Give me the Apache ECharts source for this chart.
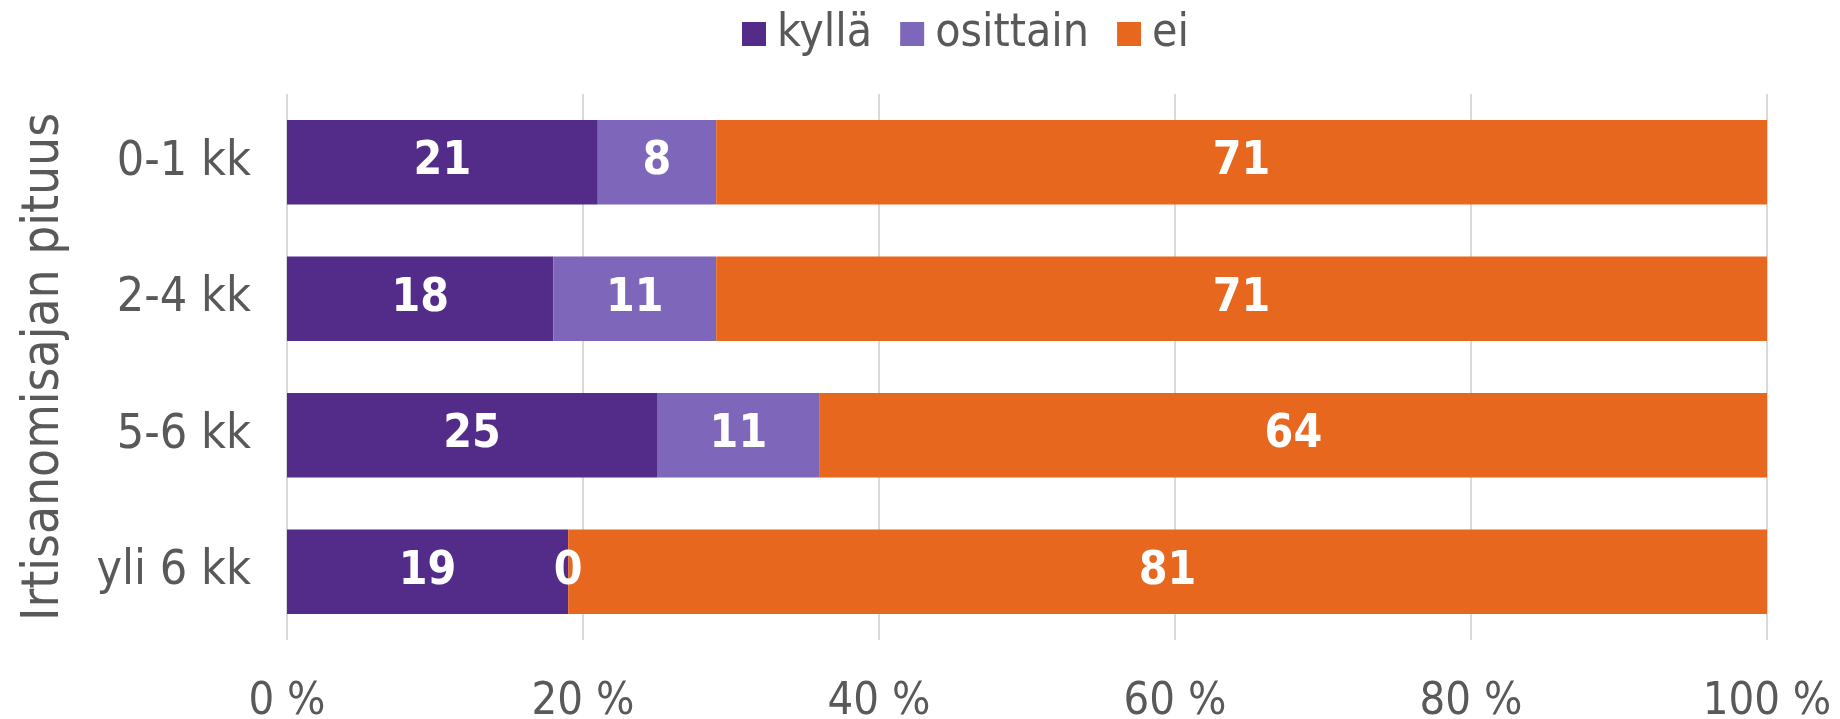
<!DOCTYPE html>
<html>
<head>
<meta charset="utf-8">
<script src="https://cdn.jsdelivr.net/npm/echarts@6/dist/echarts.min.js"></script>
<style>html,body{margin:0;padding:0;background:#fff}#c{width:1840px;height:719px}</style>
</head>
<body>
<div id="c"></div>
<script>
const categories = ['0-1 kk', '2-4 kk', '5-6 kk', 'yli 6 kk'];
const kylla = [21, 18, 25, 19];
const osittain = [8, 11, 11, 0];
const ei = [71, 71, 64, 81];
const seriesNames = ['kyllä', 'osittain', 'ei'];
const colors = ['#532C8A', '#7E66BA', '#E8671F'];
const xTicks = [0, 20, 40, 60, 80, 100];

const FONT = '"DejaVu Sans Condensed", "DejaVu Sans", sans-serif';
const chart = echarts.init(document.getElementById('c'));
const label = {
  show: true, position: 'inside', color: '#fff', fontFamily: FONT,
  fontWeight: 'bold', fontSize: 46, formatter: p => String(p.value)
};
const mk = (name, data, i) => ({
  name, type: 'bar', stack: 'a', data, barCategoryGap: '38%',
  itemStyle: { color: colors[i] }, label, emphasis: { disabled: true }
});
chart.setOption({
  animation: false,
  textStyle: { fontFamily: FONT },
  legend: {
    top: 6, left: 737, itemWidth: 24, itemHeight: 24, itemGap: 28,
    textStyle: { fontSize: 46, color: '#595959', fontFamily: FONT, padding: [0, 0, 0, 6] },
    data: seriesNames.map(n => ({ name: n, icon: 'rect' }))
  },
  grid: { left: 287, right: 73, top: 94, bottom: 79, outerBoundsMode: 'none', containLabel: false },
  xAxis: {
    type: 'value', min: xTicks[0], max: xTicks[xTicks.length - 1], interval: 20,
    axisLine: { show: false }, axisTick: { show: false },
    splitLine: { show: true, lineStyle: { color: '#D9D9D9', width: 2 } },
    axisLabel: { formatter: '{value} %', fontSize: 45, color: '#595959', margin: 40, fontFamily: FONT }
  },
  yAxis: {
    type: 'category', data: categories, inverse: true,
    axisLine: { show: false }, axisTick: { show: false },
    axisLabel: { fontSize: 48, color: '#595959', margin: 36, fontFamily: FONT },
    name: 'Irtisanomisajan pituus', nameLocation: 'middle', nameRotate: 90, nameGap: 217,
    nameTextStyle: { fontSize: 51, color: '#595959', fontFamily: FONT }
  },
  series: [mk(seriesNames[0], kylla, 0), mk(seriesNames[1], osittain, 1), mk(seriesNames[2], ei, 2)]
});
</script>
</body>
</html>
